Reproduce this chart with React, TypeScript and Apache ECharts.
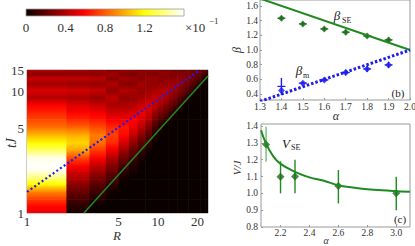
import React, { useEffect, useRef } from "react";
import * as echarts from "echarts";

// ---------- panel (a) data ----------
const rStarts = [1, 2, 3, 4, 5, 6, 7, 8, 9, 10, 11, 12, 13, 14, 15, 16, 17, 18, 19, 20, 21, 22, 23];
const tNodes = [1, 1.15, 1.3, 1.5, 1.7, 1.9, 2.2, 2.5, 2.9, 3.3, 3.8, 4.4, 5.1, 5.9, 6.8, 7.8, 8.9, 10.2, 11.6, 12.8, 14, 15];
// intensity (x10^-1) per column R, at the t nodes above
const intensityByR = [
  [0.55, 0.6, 0.72, 0.9, 1.15, 1.35, 1.55, 1.6, 1.55, 1.35, 1.18, 1.02, 0.85, 0.75, 0.66, 0.58, 0.4, 0.5, 0.36, 0.45, 0.3, 0.4],
  [0.03, 0.08, 0.15, 0.22, 0.3, 0.38, 0.48, 0.6, 0.78, 0.98, 1.1, 1.0, 0.82, 0.68, 0.58, 0.5, 0.38, 0.48, 0.34, 0.44, 0.3, 0.38],
  [0, 0, 0.05, 0.12, 0.18, 0.25, 0.35, 0.45, 0.6, 0.72, 0.85, 0.88, 0.76, 0.64, 0.55, 0.45, 0.34, 0.45, 0.33, 0.42, 0.3, 0.36],
  [0, 0, 0, 0.02, 0.08, 0.14, 0.22, 0.3, 0.42, 0.55, 0.68, 0.74, 0.68, 0.56, 0.46, 0.38, 0.43, 0.32, 0.4, 0.3, 0.36, 0.28],
  [0, 0, 0, 0, 0, 0.02, 0.08, 0.15, 0.25, 0.36, 0.48, 0.6, 0.64, 0.56, 0.46, 0.38, 0.32, 0.4, 0.3, 0.36, 0.28, 0.34],
  [0, 0, 0, 0, 0, 0, 0.02, 0.06, 0.14, 0.22, 0.32, 0.44, 0.54, 0.58, 0.48, 0.4, 0.34, 0.38, 0.3, 0.34, 0.27, 0.32],
  [0, 0, 0, 0, 0, 0, 0, 0, 0.04, 0.12, 0.2, 0.3, 0.42, 0.5, 0.54, 0.45, 0.37, 0.33, 0.37, 0.29, 0.33, 0.27],
  [0, 0, 0, 0, 0, 0, 0, 0, 0, 0.02, 0.1, 0.18, 0.28, 0.4, 0.48, 0.5, 0.41, 0.35, 0.33, 0.35, 0.29, 0.31],
  [0, 0, 0, 0, 0, 0, 0, 0, 0, 0, 0, 0.06, 0.14, 0.24, 0.35, 0.44, 0.46, 0.38, 0.32, 0.34, 0.28, 0.31],
  [0, 0, 0, 0, 0, 0, 0, 0, 0, 0, 0, 0, 0.06, 0.16, 0.27, 0.37, 0.43, 0.4, 0.33, 0.3, 0.32, 0.28],
  [0, 0, 0, 0, 0, 0, 0, 0, 0, 0, 0, 0, 0, 0.08, 0.2, 0.3, 0.39, 0.41, 0.34, 0.3, 0.31, 0.28],
  [0, 0, 0, 0, 0, 0, 0, 0, 0, 0, 0, 0, 0, 0.02, 0.12, 0.24, 0.32, 0.38, 0.36, 0.3, 0.28, 0.28],
  [0, 0, 0, 0, 0, 0, 0, 0, 0, 0, 0, 0, 0, 0, 0.06, 0.17, 0.27, 0.34, 0.36, 0.31, 0.28, 0.27],
  [0, 0, 0, 0, 0, 0, 0, 0, 0, 0, 0, 0, 0, 0, 0, 0.1, 0.2, 0.29, 0.34, 0.32, 0.28, 0.26],
  [0, 0, 0, 0, 0, 0, 0, 0, 0, 0, 0, 0, 0, 0, 0, 0.04, 0.14, 0.24, 0.31, 0.32, 0.28, 0.25],
  [0, 0, 0, 0, 0, 0, 0, 0, 0, 0, 0, 0, 0, 0, 0, 0, 0.08, 0.19, 0.27, 0.3, 0.28, 0.25],
  [0, 0, 0, 0, 0, 0, 0, 0, 0, 0, 0, 0, 0, 0, 0, 0, 0.02, 0.13, 0.22, 0.28, 0.28, 0.25],
  [0, 0, 0, 0, 0, 0, 0, 0, 0, 0, 0, 0, 0, 0, 0, 0, 0, 0.08, 0.18, 0.24, 0.27, 0.25],
  [0, 0, 0, 0, 0, 0, 0, 0, 0, 0, 0, 0, 0, 0, 0, 0, 0, 0.02, 0.13, 0.21, 0.25, 0.25],
  [0, 0, 0, 0, 0, 0, 0, 0, 0, 0, 0, 0, 0, 0, 0, 0, 0, 0, 0.08, 0.17, 0.22, 0.24],
  [0, 0, 0, 0, 0, 0, 0, 0, 0, 0, 0, 0, 0, 0, 0, 0, 0, 0, 0.03, 0.12, 0.19, 0.22],
  [0, 0, 0, 0, 0, 0, 0, 0, 0, 0, 0, 0, 0, 0, 0, 0, 0, 0, 0, 0.07, 0.15, 0.2],
  [0, 0, 0, 0, 0, 0, 0, 0, 0, 0, 0, 0, 0, 0, 0, 0, 0, 0, 0, 0.03, 0.11, 0.17],
];
const aXTicks = [1, 5, 10, 20];
const aYTicks = [1, 5, 10, 15];
const blueLineA = [[1, 1.49], [20.9, 15]];
const greenLineA = [[2.72, 1], [24.1, 13.4]];

// colorbar
const colorbarRange = [0, 1.6];
const colorbarTicks = [0, 0.4, 0.8, 1.2];

// ---------- panel (b) data ----------
const alphaB = [1.4, 1.5, 1.6, 1.7, 1.8, 1.9];
const betaSE = [1.433, 1.355, 1.287, 1.242, 1.192, 1.137];
const betaSELow = [1.405, 1.325, 1.26, 1.21, 1.165, 1.105];
const betaSEHigh = [1.46, 1.385, 1.315, 1.275, 1.22, 1.17];
const betaM = [0.45, 0.548, 0.593, 0.693, 0.743, 0.797];
const betaMLow = [0.39, 0.53, 0.575, 0.655, 0.7, 0.755];
const betaMHigh = [0.62, 0.57, 0.61, 0.73, 0.785, 0.84];
const betaSELine = [[1.3, 1.7], [2.0, 1.0]];
const betaMLine = [[1.3, 0.3], [2.0, 1.0]];
const bXTicks = [1.3, 1.4, 1.5, 1.6, 1.7, 1.8, 1.9, 2.0];
const bYTicks = [0.4, 0.6, 0.8, 1.0, 1.2, 1.4, 1.6];

// ---------- panel (c) data ----------
const alphaC = [2.1, 2.2, 2.3, 2.6, 3.0];
const vSE = [1.29, 1.098, 1.1, 1.043, 1.0];
const vSELow = [1.187, 1.0, 1.0, 0.94, 0.9];
const vSEHigh = [1.396, 1.19, 1.2, 1.138, 1.098];
const vCurveAlpha = [2.065, 2.1, 2.15, 2.2, 2.3, 2.4, 2.5, 2.6, 2.7, 2.8, 2.9, 3.0, 3.095];
const vCurve = [1.375, 1.295, 1.22, 1.175, 1.128, 1.095, 1.075, 1.048, 1.035, 1.025, 1.018, 1.013, 1.009];
const cXTicks = [2.2, 2.4, 2.6, 2.8, 3.0];
const cYTicks = [0.8, 0.9, 1.0, 1.1, 1.2, 1.3, 1.4];

// ---------- helpers ----------
const FONT = "Liberation Serif, DejaVu Serif, serif";
const VMAX = colorbarRange[1];
const GREEN_LINE = "#1f8a1f";
const GREEN_MARK = "#1a6b1a";
const BLUE = "#1c1cf0";
const TEXT = "#333";

function hot(v: number): string {
  const f = Math.max(0, Math.min(1, v / VMAX));
  const r = Math.min(1, 0.0416 + (f / 0.365) * (1 - 0.0416));
  const g = Math.max(0, Math.min(1, (f - 0.365) / 0.381));
  const b = Math.max(0, Math.min(1, (f - 0.746) / 0.254));
  return `rgb(${Math.round(r * 255)},${Math.round(g * 255)},${Math.round(b * 255)})`;
}

const zip = (xs: number[], ys: number[]) => xs.map((x, i) => [x, ys[i]]);
const zip3 = (xs: number[], a: number[], b: number[]) => xs.map((x, i) => [x, a[i], b[i]]);

const heatData: number[][] = [];
rStarts.forEach((r, c) => {
  const vals = intensityByR[c];
  for (let i = 0; i < tNodes.length - 1; i++) {
    heatData.push([r, r + 1, tNodes[i], tNodes[i + 1], vals[i], vals[i + 1]]);
  }
});

function axisLabel(values: number[], size: number, margin: number, fmt: (v: number) => string) {
  return {
    show: true,
    customValues: values,
    fontSize: size,
    fontFamily: FONT,
    color: TEXT,
    margin,
    formatter: (v: any) => fmt(Number(v)),
  };
}

function errBar(color: string | ((i: number) => string), whisker: number) {
  return (params: any, api: any) => {
    const x = api.value(0);
    const lo = api.coord([x, api.value(1)]);
    const hi = api.coord([x, api.value(2)]);
    const col = typeof color === "function" ? color(params.dataIndex) : color;
    const children: any[] = [
      { type: "line", shape: { x1: lo[0], y1: lo[1], x2: hi[0], y2: hi[1] }, style: { stroke: col, lineWidth: 1.4 } },
    ];
    if (whisker > 0) {
      const mid = (lo[1] + hi[1]) / 2;
      children.push({
        type: "line",
        shape: { x1: lo[0] - whisker, y1: mid, x2: lo[0] + whisker, y2: mid },
        style: { stroke: col, lineWidth: 1.2 },
      });
    }
    return { type: "group", children };
  };
}

function txt(x: number, y: number, text: string, font: string, fill = TEXT, extra: any = {}) {
  return {
    type: "text",
    x,
    y,
    ...extra,
    style: { text, font, fill, align: "center", verticalAlign: "middle", ...(extra.style || {}) },
  };
}

export default function App() {
  const ref = useRef<HTMLDivElement>(null);
  useEffect(() => {
    if (!ref.current) return;
    const chart = echarts.init(ref.current, null, { renderer: "svg" });
    const hidden = { show: false };
    const gridBase = { show: true, borderColor: "#999", borderWidth: 1, backgroundColor: "transparent", containLabel: false, outerBoundsMode: "none" };
    const option: any = {
      animation: false,
      backgroundColor: "#fff",
      textStyle: { fontFamily: FONT },
      grid: [
        { left: 27, top: 70, width: 181, height: 143, ...gridBase },
        { left: 260, top: 0, width: 150, height: 100, ...gridBase },
        { left: 261, top: 124, width: 149, height: 103, ...gridBase },
        { left: 26, top: 9, width: 158, height: 7, show: false, containLabel: false, outerBoundsMode: "none" },
      ],
      xAxis: [
        {
          type: "log", gridIndex: 0, min: 1, max: 24.1, logBase: 10,
          axisLine: hidden, axisTick: hidden, splitLine: hidden, minorTick: hidden, minorSplitLine: hidden,
          axisLabel: axisLabel(aXTicks, 13, 2, (v) => String(Math.round(v))),
        },
        {
          type: "value", gridIndex: 1, min: 1.3, max: 2.0,
          axisLine: hidden, splitLine: hidden,
          axisTick: { show: true, inside: true, length: 2, customValues: bXTicks, lineStyle: { color: "#999" } },
          axisLabel: axisLabel(bXTicks, 9.5, 2, (v) => v.toFixed(1)),
        },
        {
          type: "value", gridIndex: 2, min: 2.065, max: 3.095,
          axisLine: hidden, splitLine: hidden,
          axisTick: { show: true, inside: true, length: 2, customValues: cXTicks, lineStyle: { color: "#999" } },
          axisLabel: axisLabel(cXTicks, 9.5, 1, (v) => v.toFixed(1)),
        },
        {
          type: "value", gridIndex: 3, min: colorbarRange[0], max: colorbarRange[1],
          axisLine: hidden, splitLine: hidden, axisTick: hidden,
          axisLabel: axisLabel(colorbarTicks, 13, 5, (v) => (v === 0 ? "0" : v.toFixed(1))),
        },
      ],
      yAxis: [
        {
          type: "log", gridIndex: 0, min: 1, max: 15, logBase: 10,
          axisLine: hidden, axisTick: hidden, splitLine: hidden, minorTick: hidden, minorSplitLine: hidden,
          axisLabel: axisLabel(aYTicks, 13, 3, (v) => String(Math.round(v))),
        },
        {
          type: "value", gridIndex: 1, min: 0.32, max: 1.68,
          axisLine: hidden, splitLine: hidden,
          axisTick: { show: true, inside: true, length: 2, customValues: bYTicks, lineStyle: { color: "#999" } },
          axisLabel: axisLabel(bYTicks, 9.5, 2, (v) => v.toFixed(1)),
        },
        {
          type: "value", gridIndex: 2, min: 0.8, max: 1.412,
          axisLine: hidden, splitLine: hidden,
          axisTick: { show: true, inside: true, length: 2, customValues: cYTicks, lineStyle: { color: "#999" } },
          axisLabel: axisLabel(cYTicks, 9.5, 3, (v) => v.toFixed(1)),
        },
        { type: "value", gridIndex: 3, min: 0, max: 1, show: false },
      ],
      series: [
        {
          type: "custom", xAxisIndex: 0, yAxisIndex: 0, clip: true, silent: true,
          encode: { x: [0, 1], y: [2, 3] },
          data: heatData,
          renderItem: (params: any, api: any) => {
            const tl = api.coord([api.value(0), api.value(3)]);
            const br = api.coord([api.value(1), api.value(2)]);
            const vLo = api.value(4);
            const vHi = api.value(5);
            const stops = [0, 0.25, 0.5, 0.75, 1].map((o) => ({ offset: o, color: hot(vHi + (vLo - vHi) * o) }));
            return {
              type: "rect",
              shape: { x: tl[0], y: tl[1], width: br[0] - tl[0] + 0.6, height: br[1] - tl[1] + 0.6 },
              style: { fill: { type: "linear", x: 0, y: 0, x2: 0, y2: 1, colorStops: stops } },
            };
          },
        },
        {
          type: "line", xAxisIndex: 0, yAxisIndex: 0, data: blueLineA, showSymbol: false, silent: true,
          lineStyle: { color: BLUE, width: 2.2, type: [2, 2.5] },
        },
        {
          type: "line", xAxisIndex: 0, yAxisIndex: 0, data: greenLineA, showSymbol: false, silent: true,
          lineStyle: { color: GREEN_LINE, width: 1.5 },
        },
        {
          type: "line", xAxisIndex: 1, yAxisIndex: 1, data: betaSELine, showSymbol: false, silent: true,
          lineStyle: { color: GREEN_LINE, width: 2 },
        },
        {
          type: "line", xAxisIndex: 1, yAxisIndex: 1, data: betaMLine, showSymbol: false, silent: true,
          lineStyle: { color: BLUE, width: 3, type: [2.5, 2] },
        },
        {
          type: "custom", xAxisIndex: 1, yAxisIndex: 1, silent: true, encode: { x: 0, y: [1, 2] },
          data: zip3(alphaB, betaSELow, betaSEHigh), renderItem: errBar(GREEN_MARK, 4),
        },
        {
          type: "custom", xAxisIndex: 1, yAxisIndex: 1, silent: true, encode: { x: 0, y: [1, 2] },
          data: zip3(alphaB, betaMLow, betaMHigh), renderItem: errBar(BLUE, 4),
        },
        {
          type: "scatter", xAxisIndex: 1, yAxisIndex: 1, data: zip(alphaB, betaSE), symbol: "diamond", symbolSize: 7, silent: true,
          itemStyle: { color: GREEN_MARK },
        },
        {
          type: "scatter", xAxisIndex: 1, yAxisIndex: 1, data: zip(alphaB, betaM), symbol: "diamond", symbolSize: 7, silent: true,
          itemStyle: { color: BLUE },
        },
        {
          type: "line", xAxisIndex: 2, yAxisIndex: 2, data: zip(vCurveAlpha, vCurve), showSymbol: false, smooth: 0.4, silent: true,
          lineStyle: { color: GREEN_LINE, width: 2 },
        },
        {
          type: "custom", xAxisIndex: 2, yAxisIndex: 2, silent: true, encode: { x: 0, y: [1, 2] },
          data: zip3(alphaC, vSELow, vSEHigh),
          renderItem: errBar((i: number) => (i === 0 ? "#6fbf6f" : GREEN_LINE), 0),
        },
        {
          type: "scatter", xAxisIndex: 2, yAxisIndex: 2, data: zip(alphaC, vSE), symbol: "diamond", symbolSize: 8, silent: true,
          itemStyle: { color: GREEN_MARK },
        },
        {
          type: "custom", xAxisIndex: 3, yAxisIndex: 3, silent: true, encode: { x: [0, 1] },
          data: [[colorbarRange[0], colorbarRange[1]]],
          renderItem: (params: any, api: any) => {
            const a = api.coord([api.value(0), 1]);
            const b = api.coord([api.value(1), 0]);
            const stops = [0, 0.1, 0.2, 0.3, 0.365, 0.45, 0.55, 0.65, 0.746, 0.85, 0.93, 1].map((o) => ({ offset: o, color: hot(o * VMAX) }));
            return {
              type: "rect",
              shape: { x: a[0], y: a[1], width: b[0] - a[0], height: b[1] - a[1] },
              style: { fill: { type: "linear", x: 0, y: 0, x2: 1, y2: 0, colorStops: stops }, stroke: "#999", lineWidth: 0.8 },
            };
          },
        },
      ],
      graphic: [
        txt(185, 27, "×10", `13px ${FONT}`, TEXT, { style: { align: "left" } }),
        txt(209, 21, "−1", `9px ${FONT}`, TEXT, { style: { align: "left" } }),
        txt(117, 235, "R", `italic 13px ${FONT}`),
        txt(11, 143, "tJ", `italic 14px ${FONT}`, TEXT, { rotation: Math.PI / 2 }),
        txt(192, 202, "(a)", `14px ${FONT}`, "#fff"),
        txt(336, 116, "α", `italic 12px ${FONT}`),
        txt(237, 50, "β", `italic 12px ${FONT}`, TEXT, { rotation: Math.PI / 2 }),
        txt(337, 15, "β", `italic 13px ${FONT}`, "#222"),
        txt(342, 20, "SE", `8px ${FONT}`, "#222", { style: { align: "left" } }),
        txt(299, 70, "β", `italic 13px ${FONT}`, "#222"),
        txt(303, 75, "m", `8px ${FONT}`, "#222", { style: { align: "left" } }),
        txt(398, 93, "(b)", `11px ${FONT}`, "#222"),
        txt(326, 240.5, "α", `italic 10px ${FONT}`),
        txt(237, 168, "V/J", `italic 11px ${FONT}`, TEXT, { rotation: Math.PI / 2 }),
        txt(286, 143, "V", `italic 13px ${FONT}`, "#222"),
        txt(291, 147, "SE", `8px ${FONT}`, "#222", { style: { align: "left" } }),
        txt(400, 219, "(c)", `11px ${FONT}`, "#222"),
      ],
    };
    chart.setOption(option);
    return () => chart.dispose();
  }, []);
  return (
    <div
      ref={ref}
      style={{ position: "fixed", left: 0, top: 0, width: 415, height: 246, background: "#fff" }}
    />
  );
}
